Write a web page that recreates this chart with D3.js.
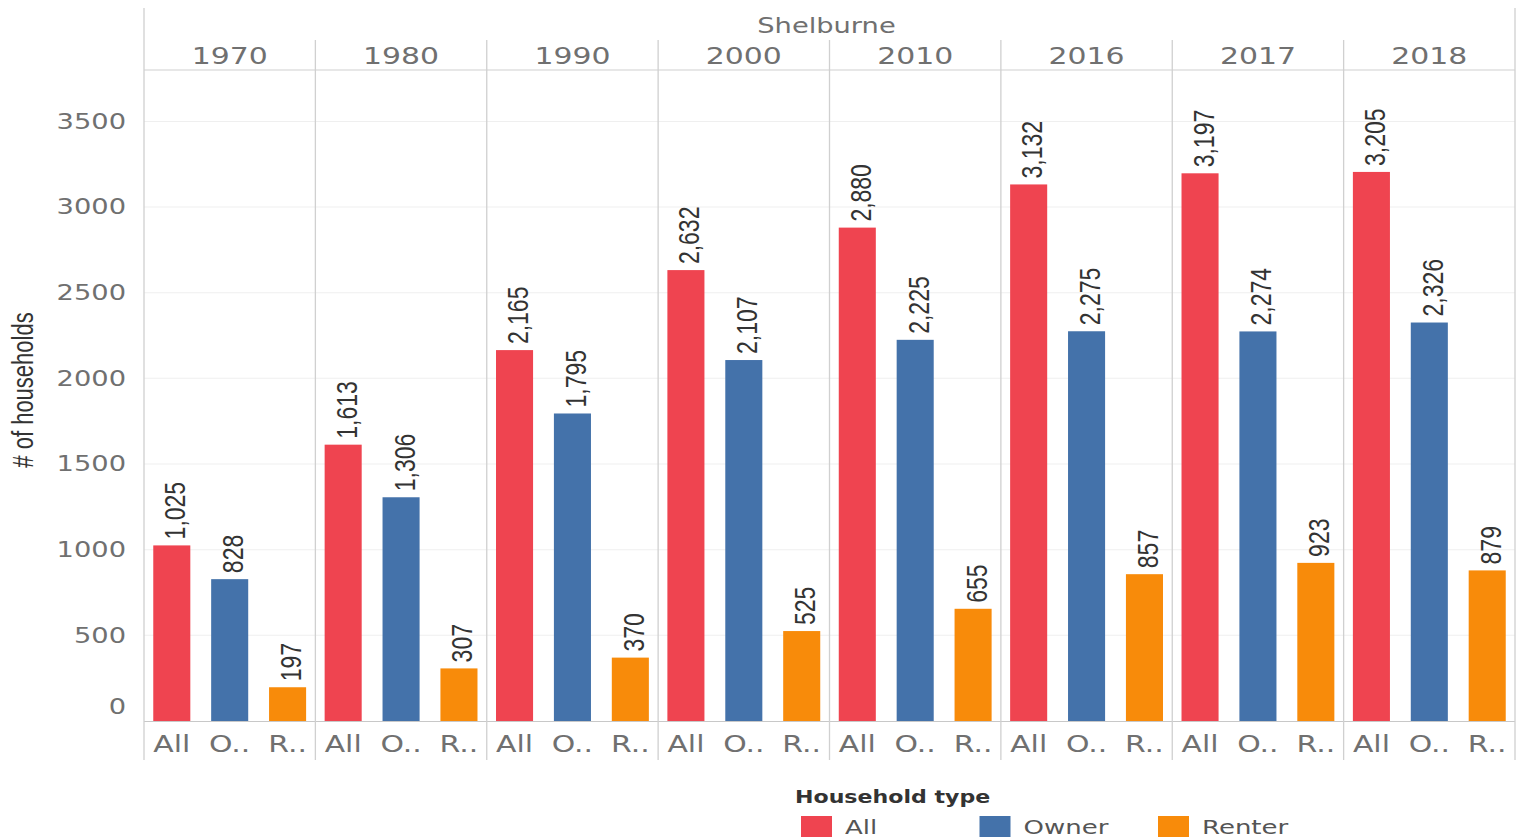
<!DOCTYPE html>
<html lang="en">
<head>
  <meta charset="utf-8">
  <title>Shelburne households</title>
  <script src="https://d3js.org/d3.v7.js"></script>
  <style>
    body { margin: 0; background: #fff; }
  </style>
</head>
<body>
  <div id="my_dataviz"></div>

  <script>
    // Data
    var years = ["1970", "1980", "1990", "2000", "2010", "2016", "2017", "2018"];
    var types = ["All", "Owner", "Renter"];
    var typeShort = ["All", "O..", "R.."];
    var allValues = [1025, 1613, 2165, 2632, 2880, 3132, 3197, 3205];
    var ownerValues = [828, 1306, 1795, 2107, 2225, 2275, 2274, 2326];
    var renterValues = [197, 307, 370, 525, 655, 857, 923, 879];
    var yTicks = [0, 500, 1000, 1500, 2000, 2500, 3000, 3500];

    var colors = {All: "#ef4450", Owner: "#4472aa", Renter: "#f88b0a"};
    var series = {All: allValues, Owner: ownerValues, Renter: renterValues};

    var W = 1523, H = 839;
    // the reference is stretched horizontally, so draw in a squeezed space
    var sx = 1.3;
    function X(v) { return v / sx; }

    var svg = d3.select("#my_dataviz")
      .append("svg")
      .attr("width", W)
      .attr("height", H);

    var g = svg.append("g")
      .attr("transform", "scale(" + sx + ",1)");

    var leftX = X(144), rightX = X(1515);
    var topY = 70, baseY = 721;

    var xYear = d3.scaleBand().domain(years).range([leftX, rightX]);
    var xType = d3.scaleBand().domain(types)
      .range([0, xYear.bandwidth()])
      .paddingInner(0.36)
      .paddingOuter(0.16);
    var y = d3.scaleLinear().domain([0, 3800]).range([baseY, topY]);

    // gridlines
    g.selectAll(".grid")
      .data(yTicks.slice(1))
      .enter().append("line")
      .attr("x1", leftX).attr("x2", rightX)
      .attr("y1", function(d) { return y(d); })
      .attr("y2", function(d) { return y(d); })
      .attr("stroke", "#efefef")
      .attr("stroke-width", 1);

    // frame lines
    g.append("line")
      .attr("x1", leftX).attr("x2", rightX)
      .attr("y1", topY).attr("y2", topY)
      .attr("stroke", "#d0d0d0");
    g.append("line")
      .attr("x1", leftX).attr("x2", rightX)
      .attr("y1", baseY + 0.5).attr("y2", baseY + 0.5)
      .attr("stroke", "#c8c8c8");

    // vertical dividers
    var edges = years.map(function(d) { return xYear(d); });
    g.selectAll(".divider")
      .data(edges.concat([rightX]))
      .enter().append("line")
      .attr("x1", function(d) { return d; })
      .attr("x2", function(d) { return d; })
      .attr("y1", function(d, i) { return (i === 0 || i === years.length) ? 8 : 40; })
      .attr("y2", 760)
      .attr("stroke", "#d0d0d0")
      .attr("stroke-width", 1);

    // header
    g.append("text")
      .attr("x", (leftX + rightX) / 2 - X(3))
      .attr("y", 33)
      .attr("text-anchor", "middle")
      .style("font-family", "DejaVu Sans")
      .style("font-size", "21px")
      .style("fill", "#707070")
      .text("Shelburne");

    g.selectAll(".year")
      .data(years)
      .enter().append("text")
      .attr("x", function(d) { return xYear(d) + xYear.bandwidth() / 2; })
      .attr("y", 64)
      .attr("text-anchor", "middle")
      .style("font-family", "DejaVu Sans")
      .style("font-size", "23px")
      .style("fill", "#707070")
      .text(function(d) { return d; });

    // Y axis
    var yAxis = g.append("g")
      .attr("transform", "translate(" + X(126) + ",0)")
      .call(d3.axisLeft(y).tickValues(yTicks).tickSize(0).tickPadding(0).tickFormat(d3.format("d")));
    yAxis.select(".domain").remove();
    yAxis.selectAll("text")
      .style("font-family", "DejaVu Sans")
      .style("font-size", "21px")
      .style("fill", "#707070");
    // the zero label sits a little above the baseline
    yAxis.selectAll(".tick").filter(function(d) { return d === 0; })
      .select("text").attr("y", -14);

    g.append("text")
      .attr("transform", "translate(" + X(33) + "," + 390 + ") rotate(-90)")
      .attr("text-anchor", "middle")
      .style("font-family", "Liberation Sans Narrow, Liberation Sans")
      .style("font-size", "22px")
      .style("fill", "#333")
      .text("# of households");

    // panels
    years.forEach(function(year, yi) {
      var panel = g.append("g")
        .attr("transform", "translate(" + xYear(year) + ",0)");

      var rows = types.map(function(t) { return {type: t, value: series[t][yi]}; });

      panel.selectAll("rect")
        .data(rows)
        .enter().append("rect")
        .attr("x", function(d) { return xType(d.type); })
        .attr("y", function(d) { return y(d.value); })
        .attr("width", xType.bandwidth())
        .attr("height", function(d) { return baseY - y(d.value); })
        .attr("fill", function(d) { return colors[d.type]; });

      panel.selectAll(".val")
        .data(rows)
        .enter().append("text")
        .attr("transform", function(d) {
          return "translate(" + (xType(d.type) + xType.bandwidth() / 2 + X(3)) + "," + (y(d.value) - 6) + ") rotate(-90)";
        })
        .attr("dy", "0.35em")
        .style("font-family", "Liberation Sans")
        .style("font-size", "23px")
        .style("fill", "#333")
        .text(function(d) { return d3.format(",")(d.value); });

      var xAxis = panel.append("g")
        .attr("transform", "translate(0," + 735 + ")")
        .call(d3.axisBottom(xType).tickSize(0).tickPadding(0)
          .tickFormat(function(d, i) { return typeShort[i]; }));
      xAxis.select(".domain").remove();
      xAxis.selectAll("text")
        .attr("dy", "0.72em")
        .style("font-family", "DejaVu Sans")
        .style("font-size", "23px")
        .style("fill", "#707070");
    });

    // legend
    g.append("text")
      .attr("x", X(795))
      .attr("y", 803)
      .style("font-family", "DejaVu Sans")
      .style("font-weight", "bold")
      .style("font-size", "17px")
      .style("fill", "#333")
      .text("Household type");

    var legend = g.selectAll(".legend")
      .data(types)
      .enter().append("g")
      .attr("transform", function(d, i) { return "translate(" + X(801 + i * 178.5) + ",0)"; });
    legend.append("rect")
      .attr("x", 0).attr("y", 816)
      .attr("width", X(31)).attr("height", 21)
      .attr("fill", function(d) { return colors[d]; });
    legend.append("text")
      .attr("x", X(44))
      .attr("y", 834)
      .style("font-family", "DejaVu Sans")
      .style("font-size", "20px")
      .style("fill", "#555")
      .text(function(d) { return d; });
  </script>
</body>
</html>
